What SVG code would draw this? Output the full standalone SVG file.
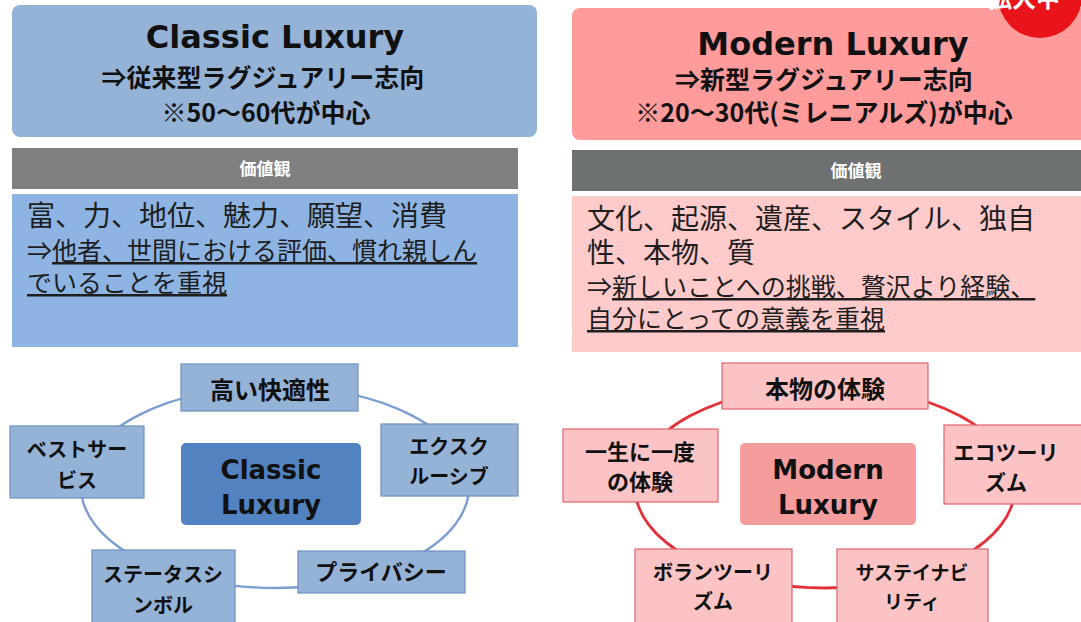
<svg xmlns="http://www.w3.org/2000/svg" width="1081" height="622" viewBox="0 0 1081 622">
<style>
.jp{font-family:"Noto Sans CJK JP","Noto Sans",sans-serif;}
.lat{font-family:"DejaVu Sans","Noto Sans CJK JP",sans-serif;font-weight:bold;}
.hjp{font-family:"Noto Sans CJK JP",sans-serif;font-weight:bold;font-size:25px;fill:#111;}
.bar{font-family:"Noto Sans CJK JP",sans-serif;font-weight:bold;font-size:17px;fill:#fff;}
.body{font-family:"Noto Sans CJK JP",sans-serif;fill:#1e1e1e;}
.ul{text-decoration:underline;}
.nb{fill:#95b3d7;stroke:#6f8fc2;stroke-width:1.2;}
.nr{fill:#fbc3c3;stroke:#e2636c;stroke-width:1.2;}
.nt{font-family:"Noto Sans CJK JP",sans-serif;font-weight:bold;fill:#111;text-anchor:middle;}
.ct{font-family:"DejaVu Sans",sans-serif;font-weight:bold;font-size:26px;fill:#111;text-anchor:middle;}
</style>
<rect width="1081" height="622" fill="#fff"/>

<!-- Left header -->
<g id="classic-header">
<rect x="12" y="5" width="525" height="132" rx="8" fill="#95b3d7"/>
<text x="275" y="48" class="lat" font-size="32" text-anchor="middle" fill="#111">Classic Luxury</text>
<text x="263" y="87" class="hjp" text-anchor="middle">⇒従来型ラグジュアリー志向</text>
<text x="266" y="122" class="hjp" text-anchor="middle">※50〜60代が中心</text>
</g>

<!-- Right header -->
<g id="modern-header">
<rect x="572" y="8" width="520" height="132" rx="8" fill="#ff9b9b"/>
<text x="833" y="55" class="lat" font-size="32" text-anchor="middle" fill="#111">Modern Luxury</text>
<text x="824" y="89" class="hjp" text-anchor="middle">⇒新型ラグジュアリー志向</text>
<text x="824" y="122" class="hjp" text-anchor="middle">※20〜30代(ミレニアルズ)が中心</text>
</g>

<!-- Badge -->
<g id="badge">
<circle cx="1040" cy="-4" r="42" fill="#e8141a"/>
<text x="988" y="7" class="jp" font-weight="bold" font-size="24" fill="#fff">拡大中</text>
</g>

<!-- Left values -->
<g id="classic-values">
<rect x="12" y="148" width="506" height="41" fill="#7f7f7f"/>
<text x="265" y="175" class="bar" text-anchor="middle">価値観</text>
<rect x="12" y="194" width="506" height="153" fill="#8db4e2"/>
<text x="27" y="226" class="body" font-size="28">富、力、地位、魅力、願望、消費</text>
<text x="27" y="260" class="body" font-size="25">⇒<tspan class="ul">他者、世間における評価、慣れ親しん</tspan></text>
<text x="27" y="292" class="body" font-size="25"><tspan class="ul">でいることを重視</tspan></text>
</g>

<!-- Right values -->
<g id="modern-values">
<rect x="572" y="150" width="520" height="41" fill="#6d7171"/>
<text x="856" y="177" class="bar" text-anchor="middle">価値観</text>
<rect x="572" y="196" width="520" height="156" fill="#ffcaca"/>
<text x="587" y="229" class="body" font-size="28">文化、起源、遺産、スタイル、独自</text>
<text x="587" y="263" class="body" font-size="28">性、本物、質</text>
<text x="587" y="296" class="body" font-size="25">⇒<tspan class="ul">新しいことへの挑戦、贅沢より経験、</tspan></text>
<text x="587" y="328" class="body" font-size="25"><tspan class="ul">自分にとっての意義を重視</tspan></text>
</g>

<!-- Connectors -->
<g id="connectors" fill="none">
<ellipse cx="275" cy="487" rx="194" ry="101" stroke="#7c9dd0" stroke-width="2.4"/>
<ellipse cx="825" cy="487" rx="190" ry="101" stroke="#e5303a" stroke-width="2.8"/>
</g>

<!-- Left cycle nodes -->
<g id="node-comfort">
<rect x="181" y="364" width="177" height="47" class="nb"/>
<text x="270" y="399" class="nt" font-size="24">高い快適性</text>
</g>
<g id="node-bestservice">
<rect x="10" y="426" width="134" height="72" class="nb"/>
<text x="77" y="457" class="nt" font-size="20">ベストサー</text>
<text x="77" y="488" class="nt" font-size="20">ビス</text>
</g>
<g id="node-classic">
<rect x="181" y="443" width="180" height="82" rx="5" fill="#5282c0"/>
<text x="271" y="479" class="ct">Classic</text>
<text x="271" y="514" class="ct">Luxury</text>
</g>
<g id="node-exclusive">
<rect x="381" y="424" width="137" height="72" class="nb"/>
<text x="449" y="454" class="nt" font-size="20">エクスク</text>
<text x="449" y="484" class="nt" font-size="20">ルーシブ</text>
</g>
<g id="node-status">
<rect x="92" y="550" width="143" height="76" class="nb"/>
<text x="163" y="582" class="nt" font-size="20">ステータスシ</text>
<text x="163" y="613" class="nt" font-size="20">ンボル</text>
</g>
<g id="node-privacy">
<rect x="298" y="551" width="167" height="42" class="nb"/>
<text x="381" y="580" class="nt" font-size="22">プライバシー</text>
</g>

<!-- Right cycle nodes -->
<g id="node-authentic">
<rect x="722" y="363" width="206" height="46" class="nr"/>
<text x="825" y="398" class="nt" font-size="24">本物の体験</text>
</g>
<g id="node-onceinlife">
<rect x="563" y="429" width="155" height="73" class="nr"/>
<text x="640" y="460" class="nt" font-size="22">一生に一度</text>
<text x="640" y="490" class="nt" font-size="22">の体験</text>
</g>
<g id="node-modern">
<rect x="740" y="443" width="176" height="82" rx="5" fill="#f59c9c"/>
<text x="828" y="479" class="ct">Modern</text>
<text x="828" y="514" class="ct">Luxury</text>
</g>
<g id="node-ecotourism">
<rect x="944" y="425" width="145" height="79" class="nr"/>
<text x="1006" y="460" class="nt" font-size="21">エコツーリ</text>
<text x="1006" y="490" class="nt" font-size="21">ズム</text>
</g>
<g id="node-voluntourism">
<rect x="635" y="549" width="157" height="78" class="nr"/>
<text x="713" y="580" class="nt" font-size="20">ボランツーリ</text>
<text x="713" y="609" class="nt" font-size="20">ズム</text>
</g>
<g id="node-sustainability">
<rect x="837" y="549" width="151" height="78" class="nr"/>
<text x="912" y="580" class="nt" font-size="19">サステイナビ</text>
<text x="912" y="609" class="nt" font-size="19">リティ</text>
</g>
</svg>
